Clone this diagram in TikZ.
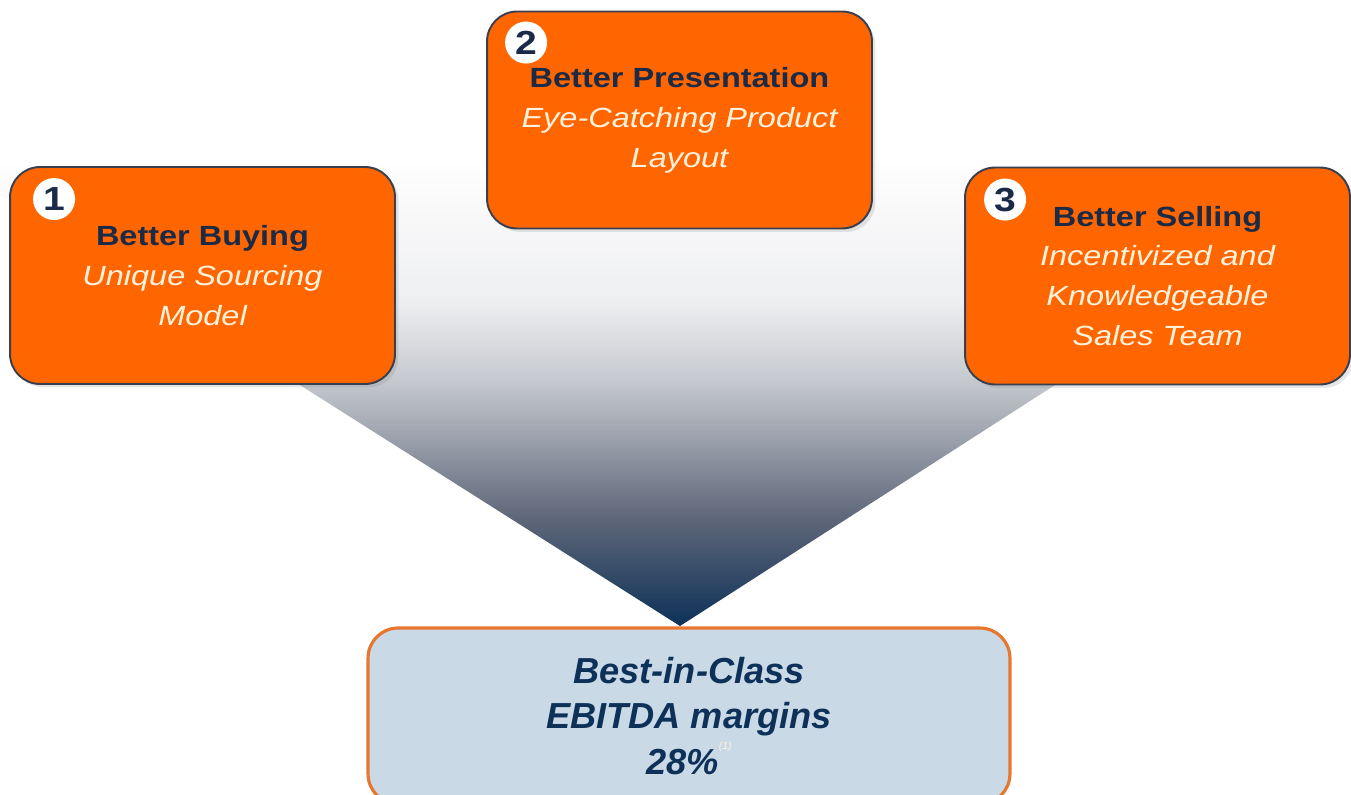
\documentclass[tikz,border=0pt]{standalone}
\usepackage{fontspec}
\setmainfont{Liberation Sans}
\newfontfamily\widefont{Liberation Sans}[FakeStretch=1.17]
\usepackage{xcolor}
\usetikzlibrary{positioning,calc,shadows}
\definecolor{orange600}{HTML}{FF6600}
\definecolor{orange400}{HTML}{E8762E}
\definecolor{navy900}{HTML}{0D3158}
\definecolor{navy800}{HTML}{1B2A47}
\definecolor{slate800}{HTML}{3A3F4F}
\definecolor{cream100}{HTML}{FFF2DC}
\definecolor{ice200}{HTML}{C9D9E6}
\pgfdeclareverticalshading{funnelfade}{100bp}{
  color(0bp)=(navy900); color(25bp)=(navy900);
  color(36.4bp)=(rgb,255:red,93;green,102;blue,120);
  color(45.3bp)=(rgb,255:red,156;green,162;blue,173);
  color(50.9bp)=(rgb,255:red,195;green,198;blue,204);
  color(60bp)=(rgb,255:red,238;green,239;blue,241);
  color(70.7bp)=(rgb,255:red,250;green,250;blue,251);
  color(75bp)=(white); color(100bp)=(white)}
\tikzset{
  every node/.style={font=\widefont\fontsize{15.8pt}{22.7pt}\selectfont},
  driver/.style={
    rectangle, rounded corners=0.6cm,
    draw=slate800, line width=1.1pt, fill=orange600,
    minimum width=7.7cm, minimum height=4.34cm,
    align=center, inner sep=0pt, text=cream100,
    drop shadow={opacity=0.2, shadow xshift=2pt, shadow yshift=-2pt}
  },
  numdot/.style={
    circle, fill=white, minimum size=0.84cm, inner sep=0pt,
    text=navy800, font=\widefont\bfseries\fontsize{19pt}{19pt}\selectfont
  },
  target/.style={
    rectangle, rounded corners=0.6cm,
    draw=orange400, line width=1.8pt, fill=ice200,
    minimum width=12.84cm, minimum height=3.52cm,
    align=center, text=navy900,
    font=\bfseries\itshape\fontsize{20.6pt}{26pt}\selectfont
  },
}
\newcommand{\headline}[1]{{\upshape\bfseries\color{navy800}#1}}

\begin{document}
\begin{tikzpicture}[x=0.02cm, y=-0.02cm]
  \useasboundingbox (0,0) rectangle (1351,794);
  \clip (0,0) rectangle (1351,794);
  % funnel behind the boxes
  \shade[shading=funnelfade] (-55,160) -- (1405,160) -- (680,626) -- cycle;
  % the three drivers
  \node[driver] (buying) at (202.5,275.5) {\headline{Better Buying}\\\itshape Unique Sourcing\\\itshape Model};
  \node[driver] (presentation) at (679.5,120) {\headline{Better Presentation}\\\itshape Eye-Catching Product\\\itshape Layout};
  \node[driver] (selling) at (1157.5,276) {\headline{Better Selling}\\\itshape Incentivized and\\\itshape Knowledgeable\\\itshape Sales Team};
  \node[numdot] (one) at ($(buying.north west)+(45,33)$) {1};
  \node[numdot] (two) at ($(presentation.north west)+(40,32)$) {2};
  \node[numdot] (three) at ($(selling.north west)+(41,33)$) {3};
  % result
  \node[target] (margins) at (689,716) {Best-in-Class\\EBITDA margins\\28\%\raisebox{1.3ex}{\color{cream100}\mdseries\fontsize{6pt}{6pt}\selectfont(1)}};
\end{tikzpicture}
\end{document}
